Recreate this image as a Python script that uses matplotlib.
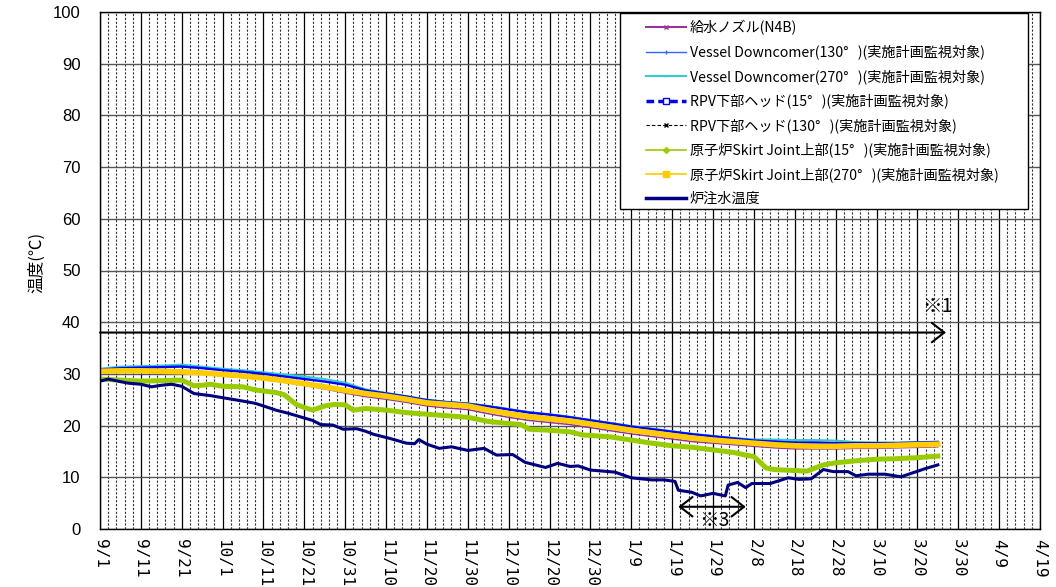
import matplotlib
matplotlib.use("Agg")
import matplotlib.pyplot as plt
from matplotlib.lines import Line2D
from matplotlib.patches import Rectangle
from matplotlib.ticker import MultipleLocator

plt.rcParams['font.family'] = ['Liberation Sans', 'Noto Sans CJK JP', 'DejaVu Sans']

# x axis: days since 9/1, labels every 10 days
tick_labels = ["9/1", "9/11", "9/21", "10/1", "10/11", "10/21", "10/31", "11/10",
               "11/20", "11/30", "12/10", "12/20", "12/30", "1/9", "1/19", "1/29",
               "2/8", "2/18", "2/28", "3/10", "3/20", "3/30", "4/9", "4/19"]

series_names = [
    "給水ノズル(N4B)",
    "Vessel Downcomer(130°   )(実施計画監視対象)",
    "Vessel Downcomer(270°   )(実施計画監視対象)",
    "RPV下部ヘッド(15°   )(実施計画監視対象)",
    "RPV下部ヘッド(130°   )(実施計画監視対象)",
    "原子炉Skirt Joint上部(15°   )(実施計画監視対象)",
    "原子炉Skirt Joint上部(270°   )(実施計画監視対象)",
    "炉注水温度",
]

days = list(range(0, 206, 5))

feedwater = [30.3, 30.4, 30.4, 30.3, 30.2, 30.0, 29.6, 29.3, 28.9, 28.4, 27.8, 27.1, 26.3, 25.6,
             25.1, 24.5, 23.8, 23.4, 23.1, 22.3, 21.6, 21.0, 20.6, 20.2, 19.6, 19.0, 18.4, 17.9,
             17.4, 16.9, 16.6, 16.3, 16.0, 15.7, 15.5, 15.5, 15.5, 15.6, 15.6, 15.7, 15.8, 15.9]
downcomer_130 = [30.9, 31.2, 31.3, 31.4, 31.5, 31.2, 30.8, 30.5, 30.1, 29.6, 29.1, 28.6, 28.0, 26.9,
                 26.3, 25.7, 25.0, 24.6, 24.3, 23.8, 23.2, 22.6, 22.2, 21.7, 21.1, 20.5, 19.9, 19.4,
                 18.9, 18.4, 18.0, 17.6, 17.2, 17.0, 16.8, 16.8, 16.7, 16.7, 16.7, 16.7, 16.8, 16.9]
downcomer_270 = [31.0, 31.4, 31.5, 31.6, 31.8, 31.4, 31.0, 30.7, 30.3, 29.9, 29.5, 29.0, 28.3, 27.0,
                 26.3, 25.7, 25.0, 24.6, 24.3, 23.8, 23.2, 22.6, 22.2, 21.7, 21.1, 20.5, 19.9, 19.4,
                 18.9, 18.4, 18.0, 17.6, 17.3, 17.3, 17.2, 17.2, 17.1, 16.8, 16.7, 16.7, 16.8, 16.9]
rpv_head_15 = [30.8, 31.1, 31.2, 31.3, 31.4, 31.1, 30.7, 30.4, 30.0, 29.5, 29.0, 28.5, 27.9, 26.8,
               26.2, 25.6, 24.9, 24.5, 24.2, 23.7, 23.1, 22.5, 22.1, 21.6, 21.0, 20.4, 19.8, 19.3,
               18.8, 18.3, 17.9, 17.5, 17.1, 16.9, 16.7, 16.7, 16.6, 16.6, 16.6, 16.6, 16.7, 16.8]
rpv_head_130 = [30.6, 30.7, 30.7, 30.6, 30.5, 30.3, 30.0, 29.7, 29.3, 28.8, 28.2, 27.6, 26.9, 26.3,
                25.8, 25.2, 24.5, 24.2, 23.9, 23.1, 22.4, 21.8, 21.4, 21.0, 20.4, 19.8, 19.2, 18.7,
                18.2, 17.7, 17.3, 17.0, 16.7, 16.4, 16.2, 16.1, 16.1, 16.2, 16.2, 16.3, 16.4, 16.5]
skirt_270 = [30.5, 30.6, 30.6, 30.5, 30.4, 30.2, 29.9, 29.6, 29.2, 28.7, 28.1, 27.5, 26.8, 26.2,
             25.7, 25.1, 24.4, 24.1, 23.8, 23.0, 22.3, 21.7, 21.3, 20.9, 20.3, 19.7, 19.1, 18.6,
             18.1, 17.6, 17.2, 16.9, 16.6, 16.3, 16.1, 16.0, 16.0, 16.1, 16.1, 16.2, 16.3, 16.4]

skirt_15_days = [0, 5, 10, 15, 20, 23, 25, 27, 30, 35, 38, 43, 45, 48, 50, 52, 55, 57.5, 60, 62,
                 65, 70, 75, 80, 85, 90, 95, 100, 103, 105, 110, 115, 118, 120, 125, 130, 135, 140,
                 145, 150, 155, 158, 160, 163, 165, 170, 173, 175, 177, 180, 185, 190, 195, 200, 205]
skirt_15 = [29.0, 28.8, 28.6, 28.7, 28.8, 27.7, 27.8, 28.0, 27.6, 27.5, 26.9, 26.4, 26.0, 24.1, 23.5,
            23.0, 23.8, 24.1, 24.0, 23.0, 23.3, 23.0, 22.5, 22.2, 21.9, 21.6, 20.8, 20.4, 20.2, 19.3,
            19.1, 18.8, 18.2, 18.1, 17.8, 17.2, 16.6, 16.1, 15.8, 15.3, 14.8, 14.3, 14.0, 11.8, 11.5,
            11.3, 11.2, 11.8, 12.4, 12.8, 13.2, 13.5, 13.6, 13.8, 14.1]

inject_days = [0, 2, 5, 7, 10, 12.6, 15, 17.5, 20, 23, 25, 27, 30, 33, 36, 38, 40, 43, 46, 49, 52,
               54, 57, 59.5, 62.8, 65, 67, 71, 75, 77, 78, 80, 83, 86, 90, 94, 97, 101, 104, 107,
               109, 112, 115, 117, 120, 123, 126, 130, 135, 138, 140.7, 141.5, 144.8, 147, 150,
               153, 153.7, 156, 158, 159.5, 164, 168.4, 171, 174, 177, 179.4, 183, 185, 188, 192,
               196, 199, 202, 205]
inject_temp = [28.6, 29.0, 28.5, 28.2, 28.0, 27.5, 27.8, 28.0, 27.6, 26.2, 26.0, 25.8, 25.4, 25.0,
               24.6, 24.3, 23.8, 23.0, 22.4, 21.7, 21.0, 20.2, 20.1, 19.3, 19.4, 18.9, 18.3, 17.5,
               16.6, 16.5, 17.3, 16.4, 15.6, 15.9, 15.2, 15.6, 14.3, 14.4, 12.9, 12.3, 11.9, 12.7,
               12.1, 12.2, 11.4, 11.2, 11.0, 9.9, 9.5, 9.5, 9.2, 7.5, 7.1, 6.4, 6.9, 6.4, 8.5, 9.0,
               8.0, 8.8, 8.8, 9.9, 9.6, 9.7, 11.5, 11.1, 11.1, 10.3, 10.6, 10.6, 10.1, 10.9, 11.7,
               12.4]

# annotation spans (days / deg C)
note1_span = (0, 207)
note1_level = 38
note3_span = (141.5, 158)
note3_level = 4.3

cjk = ['Noto Sans CJK JP', 'DejaVu Sans']
W, H = 1056, 587

fig = plt.figure(figsize=(W / 100, H / 100), dpi=100)
ax = fig.add_axes([100 / W, 58 / H, 940 / W, 517 / H])

ax.plot(days, feedwater, color='#993399', lw=1.1)
ax.plot(days, downcomer_270, color='#33CCCC', lw=1.5)
ax.plot(days, downcomer_130, color='#3366FF', lw=1.2)
ax.plot(days, rpv_head_15, color='#0000FF', lw=1.6)
ax.plot(days, rpv_head_130, color='black', lw=0.8, ls=(0, (3, 2)))
ax.plot(skirt_15_days, skirt_15, color='#99CC00', lw=3.6)
ax.plot(days, skirt_270, color='#FFCC00', lw=4.0)
ax.plot(inject_days, inject_temp, color='#000080', lw=2.2)

ax.set_xlim(0, 230)
ax.set_ylim(0, 100)
ax.set_xticks(range(0, 231, 10))
ax.set_xticklabels(tick_labels, rotation=-90, fontsize=11.5, family='DejaVu Sans Mono')
ax.xaxis.set_minor_locator(MultipleLocator(2))
ax.set_yticks(range(0, 101, 10))
ax.tick_params(axis='y', length=0, pad=14, labelsize=12)
ax.tick_params(axis='x', which='both', length=0, pad=7)
ax.grid(axis='x', which='minor', color='#333333', lw=0.8, ls=(0, (2, 1.5)))
ax.grid(axis='x', which='major', color='black', lw=0.9)
ax.grid(axis='y', which='major', color='#555555', lw=1.0)
ax.set_axisbelow(True)
for sp in ax.spines.values():
    sp.set_color('black')
    sp.set_linewidth(1.0)

fig.text(37 / W, 1 - 262 / H, "温度(℃)", rotation=90, ha='center', va='center',
         fontsize=12, family=cjk)

arrow_style = dict(arrowstyle='->,head_length=0.45,head_width=0.35', lw=1.5, color='black',
                   shrinkA=0, shrinkB=0, mutation_scale=20)
ax.annotate('', xy=(note1_span[1], note1_level), xytext=(note1_span[0], note1_level),
            arrowprops=arrow_style)
ax.text(205, 43, "※1", ha='center', va='center', fontsize=14, family=cjk)
arrow_style2 = dict(arrow_style, arrowstyle='<->,head_length=0.45,head_width=0.35')
ax.annotate('', xy=(note3_span[1], note3_level), xytext=(note3_span[0], note3_level),
            arrowprops=arrow_style2)
ax.text(150.3, 1.6, "※3", ha='center', va='center', fontsize=14, clip_on=False, family=cjk)

handles = [
    Line2D([], [], color='#993399', lw=1.5, marker='x', ms=3, mew=1),
    Line2D([], [], color='#3366FF', lw=1.0, marker='|', ms=3),
    Line2D([], [], color='#33CCCC', lw=1.5, marker='_', ms=4),
    Line2D([], [], color='#0000FF', lw=2.5, ls=(0, (2.2, 1.2)), marker='s', ms=4,
           mfc='white', mec='#0000FF'),
    Line2D([], [], color='black', lw=0.8, ls=(0, (3, 2)), marker='x', ms=3),
    Line2D([], [], color='#99CC00', lw=1.2, marker='D', ms=3),
    Line2D([], [], color='#FFCC00', lw=1.2, marker='s', ms=5),
    Line2D([], [], color='#000080', lw=2.5),
]
# legend box drawn separately so it can have wide side margins like the original
frame = Rectangle((620 / W, 1 - 209 / H), 408 / W, 196 / H, transform=fig.transFigure,
                  facecolor='white', edgecolor='black', lw=1.0, zorder=4)
fig.patches.append(frame)
leg = fig.legend(handles, series_names, loc='upper left',
                 bbox_to_anchor=(646 / W, 1 - 20 / H), bbox_transform=fig.transFigure,
                 prop={'family': cjk, 'size': 10.2},
                 labelspacing=0.68, handlelength=2.8, handletextpad=0.3, borderpad=0,
                 frameon=False, borderaxespad=0)
leg.set_zorder(5)

fig.savefig("out.png", dpi=100)
